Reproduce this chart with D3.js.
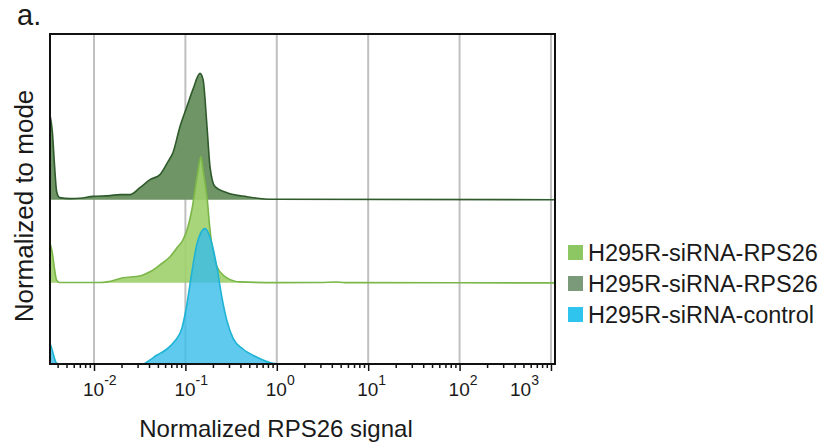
<!DOCTYPE html>
<html>
<head>
<meta charset="utf-8">
<script src="https://cdn.jsdelivr.net/npm/d3@7"></script>
<style>
  html, body { margin: 0; padding: 0; background: #fff; }
  svg { display: block; font-family: "Liberation Sans", Arial, sans-serif; }
</style>
</head>
<body>
<svg id="chart" width="825" height="444"></svg>
<script>
// ---- data (x = normalized RPS26 signal, y = % of mode in shared units) ----
const seriesNames = ["H295R-siRNA-RPS26", "H295R-siRNA-RPS26", "H295R-siRNA-control"];
const baselineOffsets = [120.5, 59.5, 0]; // vertical stacking offset of each histogram

const darkGreen = [
  [0.0033, 62], [0.0035, 50], [0.0037, 25], [0.0039, 6], [0.0042, 1.5], [0.0055, 0.8],
  [0.007, 1], [0.0097, 2.4], [0.015, 3], [0.0192, 3.7], [0.0248, 3.7], [0.0318, 8.8],
  [0.041, 14.7], [0.0527, 18.4], [0.0645, 27.9], [0.0732, 34.6], [0.0873, 53.7],
  [0.104, 68.4], [0.121, 80.9], [0.1444, 92.6], [0.156, 88.2], [0.1723, 53.7],
  [0.1858, 24.3], [0.2107, 9.6], [0.2851, 5.1], [0.4721, 2.2], [0.908, 0.3], [1107, 0]
];
const lightGreen = [
  [0.0033, 29], [0.0035, 22], [0.0037, 10], [0.0039, 2], [0.0042, 0.3], [0.0117, 0.3],
  [0.0139, 0.7], [0.0208, 3.7], [0.0318, 5.1], [0.041, 8.1], [0.0527, 13.2], [0.0679, 19.1],
  [0.0809, 25.7], [0.0942, 31.6], [0.1067, 41.2], [0.118, 54], [0.1338, 77.5], [0.1482, 92.6],
  [0.1559, 83], [0.1723, 63], [0.1858, 38.9], [0.2217, 11.8], [0.2851, 3.7], [0.3956, 0.7],
  [1.0, 0.2], [3.0, 0.3], [4.5, 0.6], [5.5, 0.2], [1107, 0]
];
const control = [
  [0.0033, 15], [0.0035, 10], [0.0037, 4], [0.0039, 0.5], [0.0043, 0], [0.0344, 0],
  [0.041, 3], [0.0489, 6.6], [0.0568, 9], [0.0629, 11], [0.077, 17], [0.0918, 26.5],
  [0.104, 44], [0.118, 68], [0.1338, 88], [0.1638, 99.3], [0.1954, 88], [0.2217, 70.6],
  [0.2514, 48.5], [0.2851, 31.6], [0.3318, 19], [0.4266, 11], [0.607, 5], [0.908, 0.5],
  [1.1, 0], [1107, 0]
];
const seriesData = [darkGreen, lightGreen, control];

const xTickValues = [0.01, 0.1, 1, 10, 100, 1000];
const xTickExponents = ["-2", "-1", "0", "1", "2", "3"];
const xDomain = [0.0033, 1107];
const yDomain = [0, 242];

// ---- styles ----
const fills = ["#6f9466", "#9fcf6c", "#37bbea"];
const fillOpacity = [1, 0.9, 0.8];
const strokes = ["#2f5a2b", "#7ab648", "#1fb3d4"];
const legendColors = ["#8dc763", "#7a9a7a", "#2ec4ee"];

// ---- layout ----
const svg = d3.select("#chart");
const L = 50, R = 555, T = 34, B = 364;

const x = d3.scaleLog().domain(xDomain).range([L, R]);
const y = d3.scaleLinear().domain(yDomain).range([B, T]);

// gridlines
svg.append("g").selectAll("line").data(xTickValues).join("line")
  .attr("x1", d => x(d)).attr("x2", d => x(d))
  .attr("y1", T).attr("y2", B)
  .attr("stroke", "#c0c0c0").attr("stroke-width", 2);

// histograms
seriesData.forEach((data, i) => {
  const off = baselineOffsets[i];
  const area = d3.area()
    .x(d => x(d[0]))
    .y0(y(off))
    .y1(d => y(off + d[1]))
    .curve(d3.curveMonotoneX);
  const line = d3.line()
    .x(d => x(d[0]))
    .y(d => y(off + d[1]))
    .curve(d3.curveMonotoneX);
  svg.append("path").datum(data)
    .attr("d", area)
    .attr("fill", fills[i]).attr("fill-opacity", fillOpacity[i]);
  svg.append("path").datum(data)
    .attr("d", line)
    .attr("fill", "none").attr("stroke", strokes[i]).attr("stroke-width", 1.6);
});

// x axis ticks (major + minor)
const axis = d3.axisBottom(x)
  .tickValues(x.ticks().filter(v => v >= xDomain[0] && v <= xDomain[1]))
  .tickSize(4).tickFormat("");
const gAxis = svg.append("g").attr("transform", `translate(0,${B})`).call(axis);
gAxis.select(".domain").remove();
gAxis.selectAll(".tick line")
  .attr("stroke", "#111").attr("stroke-width", 1.5)
  .attr("y2", d => xTickValues.some(t => Math.abs(Math.log10(t) - Math.log10(d)) < 1e-9) ? 7 : 4);

// tick labels
xTickValues.forEach((v, i) => {
  const cx = Math.min(x(v), R - 34);
  const t = svg.append("text")
    .attr("x", cx - 11).attr("y", 396)
    .attr("font-size", 19).attr("fill", "#1a1a1a");
  t.append("tspan").text("10");
  t.append("tspan").attr("dy", -11).attr("font-size", 14).text(xTickExponents[i]);
});

// frame
svg.append("rect")
  .attr("x", L).attr("y", T).attr("width", R - L).attr("height", B - T)
  .attr("fill", "none").attr("stroke", "#111").attr("stroke-width", 2);

// axis titles
svg.append("text")
  .attr("x", 276).attr("y", 437).attr("text-anchor", "middle")
  .attr("font-size", 24).attr("fill", "#1a1a1a")
  .text("Normalized RPS26 signal");
svg.append("text")
  .attr("transform", "translate(33,206) rotate(-90)")
  .attr("text-anchor", "middle")
  .attr("font-size", 26).attr("fill", "#1a1a1a")
  .text("Normalized to mode");

// panel label
svg.append("text").attr("x", 17).attr("y", 25)
  .attr("font-size", 29).attr("fill", "#1a1a1a").text("a.");

// legend
const legendOrder = [1, 0, 2];
const lg = svg.append("g");
legendOrder.forEach((si, k) => {
  const cy = 253 + k * 31;
  lg.append("rect").attr("x", 568).attr("y", cy - 8).attr("width", 15).attr("height", 15)
    .attr("fill", legendColors[k]);
  lg.append("text").attr("x", 588).attr("y", cy + 8)
    .attr("font-size", 23.5).attr("fill", "#1a1a1a")
    .text(seriesNames[si]);
});
</script>
</body>
</html>
